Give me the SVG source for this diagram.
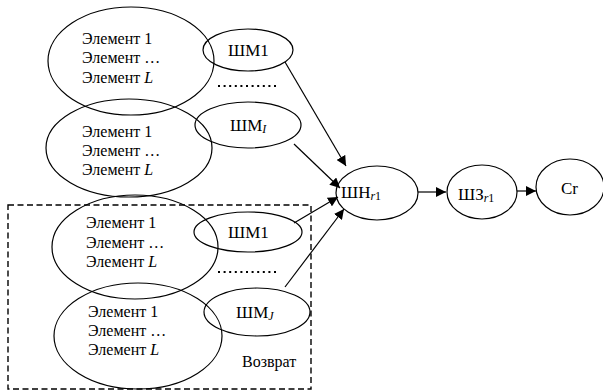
<svg xmlns="http://www.w3.org/2000/svg" width="603" height="390" viewBox="0 0 603 390">
  <style>
    .shape { fill: none; stroke: #000; stroke-width: 1.2; }
    .txt { font-family: "Liberation Serif", "Times New Roman", serif; font-size: 16px; fill: #000; }
    .lbl { font-family: "Liberation Serif", "Times New Roman", serif; font-size: 17px; fill: #000; }
    .sub { font-size: 12px; font-style: italic; }
    .subn { font-size: 12px; }
    .dots { stroke: #000; stroke-width: 2; stroke-dasharray: 2 3.6; fill: none; }
    .edge { stroke: #000; stroke-width: 1.2; fill: none; marker-end: url(#arrow); }
  </style>
  <defs>
    <marker id="arrow" viewBox="0 0 10 10" refX="10" refY="5" markerWidth="10" markerHeight="10" markerUnits="userSpaceOnUse" orient="auto">
      <path d="M0,0 L10,5 L0,10 z" fill="#000"/>
    </marker>
  </defs>

  <!-- return block -->
  <rect x="8" y="205" width="303" height="184" fill="none" stroke="#000" stroke-width="1.4" stroke-dasharray="6 3.5"/>

  <g id="group1">
    <ellipse class="shape" cx="131" cy="61" rx="83" ry="54"/>
    <text class="txt" x="82" y="44">Элемент 1</text>
    <text class="txt" x="82" y="63">Элемент …</text>
    <text class="txt" x="82" y="83">Элемент <tspan font-style="italic">L</tspan></text>
  </g>
  <g id="shm1-top">
    <ellipse class="shape" cx="248" cy="50" rx="45" ry="21"/>
    <text class="lbl" x="228" y="56">ШМ1</text>
  </g>
  <path class="dots" d="M218,86 H279"/>

  <g id="group2">
    <ellipse class="shape" cx="129" cy="148" rx="83" ry="49"/>
    <text class="txt" x="82" y="137">Элемент 1</text>
    <text class="txt" x="82" y="156">Элемент …</text>
    <text class="txt" x="82" y="175">Элемент <tspan font-style="italic">L</tspan></text>
  </g>
  <g id="shm-i">
    <ellipse class="shape" cx="248" cy="125" rx="53" ry="23"/>
    <text class="lbl" x="230" y="131">ШМ<tspan class="sub" dy="2">I</tspan></text>
  </g>

  <g id="group3">
    <ellipse class="shape" cx="135" cy="247" rx="83" ry="52"/>
    <text class="txt" x="86" y="228">Элемент 1</text>
    <text class="txt" x="86" y="248">Элемент …</text>
    <text class="txt" x="86" y="267">Элемент <tspan font-style="italic">L</tspan></text>
  </g>
  <g id="shm1-bottom">
    <ellipse class="shape" cx="248" cy="232" rx="54" ry="20"/>
    <text class="lbl" x="228" y="238">ШМ1</text>
  </g>
  <path class="dots" d="M218,272 H279"/>

  <g id="group4">
    <ellipse class="shape" cx="138" cy="336" rx="84" ry="53"/>
    <text class="txt" x="88" y="317">Элемент 1</text>
    <text class="txt" x="88" y="336">Элемент …</text>
    <text class="txt" x="88" y="355">Элемент <tspan font-style="italic">L</tspan></text>
  </g>
  <g id="shm-j">
    <ellipse class="shape" cx="257" cy="312" rx="53" ry="24"/>
    <text class="lbl" x="236" y="318">ШМ<tspan class="sub" dy="2">J</tspan></text>
  </g>

  <text class="txt" x="242" y="367">Возврат</text>

  <g id="shn">
    <ellipse class="shape" cx="377" cy="193" rx="41" ry="27"/>
    <text class="lbl" x="341" y="198">ШН<tspan class="sub" dy="2">r</tspan><tspan class="subn">1</tspan></text>
  </g>
  <g id="shz">
    <ellipse class="shape" cx="482" cy="192" rx="35" ry="27"/>
    <text class="lbl" x="458" y="200">ШЗ<tspan class="sub" dy="2">r</tspan><tspan class="subn">1</tspan></text>
  </g>
  <g id="cr">
    <ellipse class="shape" cx="570" cy="187" rx="34" ry="28"/>
    <text class="lbl" x="561" y="194">Cr</text>
  </g>

  <g id="connectors">
    <path class="edge" d="M285,62 L346,166"/>
    <path class="edge" d="M294,144 L340,188"/>
    <path class="edge" d="M294,223 L338,197"/>
    <path class="edge" d="M285,287 L344,209"/>
    <path class="edge" d="M418,192 L446,192"/>
    <path class="edge" d="M517,191 L536,191"/>
  </g>
</svg>
